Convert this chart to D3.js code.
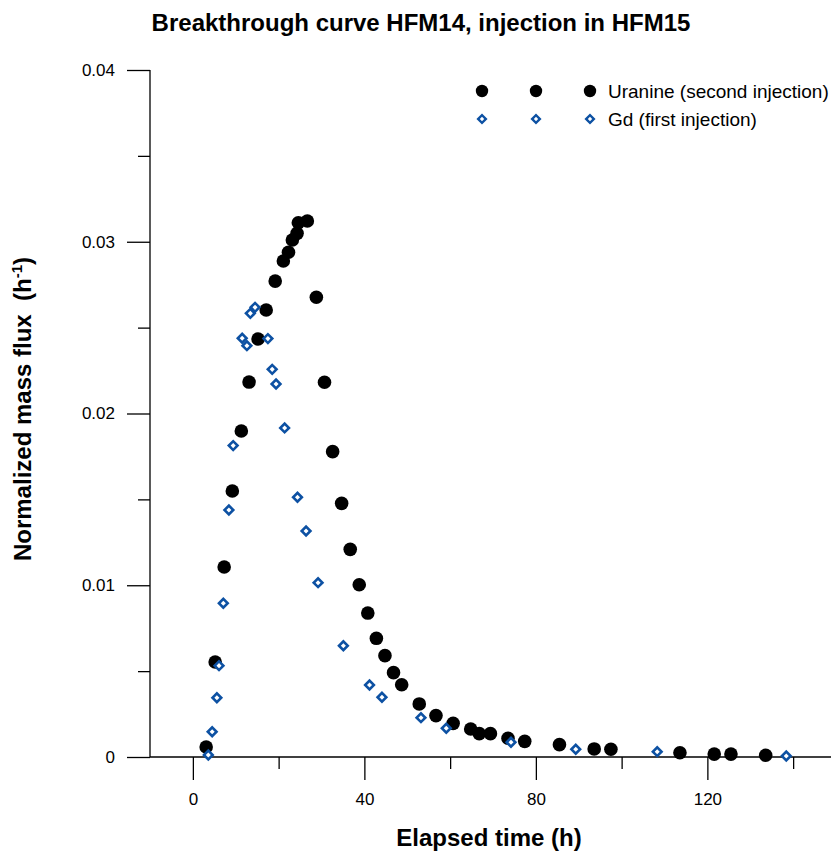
<!DOCTYPE html>
<html>
<head>
<meta charset="utf-8">
<script src="https://cdn.jsdelivr.net/npm/d3@7"></script>
<style>
  html, body { margin: 0; padding: 0; background: #fff; }
  svg { display: block; font-family: "Liberation Sans", Arial, sans-serif; }
</style>
</head>
<body>
<svg id="chart" width="831" height="852"></svg>
<script>
// ---- Data ----
const uranineTime = [3.1, 5.2, 7.3, 9.2, 11.3, 13.1, 15.2, 17.1, 19.2, 21.1, 22.3, 23.2, 24.3, 24.6, 26.7,
  28.8, 30.7, 32.6, 34.7, 36.7, 38.8, 40.8, 42.8, 44.8, 46.8, 48.7, 52.8, 56.7, 60.7, 64.8, 66.8, 69.4,
  73.5, 77.4, 85.5, 93.6, 97.5, 113.6, 121.6, 125.5, 133.6];
const uranineFlux = [0.00058, 0.00553, 0.01106, 0.01549, 0.01898, 0.02183, 0.02434, 0.02603, 0.02771, 0.02888,
  0.02939, 0.03010, 0.03049, 0.03111, 0.03121, 0.02677, 0.02182, 0.01778, 0.01477, 0.01209, 0.01003, 0.00838,
  0.00691, 0.00590, 0.00491, 0.00421, 0.00309, 0.00241, 0.00196, 0.00163, 0.00136, 0.00136, 0.00109, 0.00091,
  0.00072, 0.00047, 0.00045, 0.00025, 0.00017, 0.00017, 0.00010];
const gdTime = [3.6, 4.5, 5.6, 6.1, 7.1, 8.4, 9.4, 11.5, 12.6, 13.4, 14.5, 17.5, 18.5, 19.4, 21.4, 24.4, 26.4,
  29.2, 35.1, 41.2, 44.1, 53.2, 59.1, 74.2, 89.3, 108.3, 138.4];
const gdFlux = [0.00012, 0.00147, 0.00345, 0.00532, 0.00895, 0.01438, 0.01813, 0.02438, 0.02395, 0.02583,
  0.02618, 0.02436, 0.02257, 0.02172, 0.01916, 0.01512, 0.01316, 0.01015, 0.00648, 0.00419, 0.00348, 0.00229,
  0.00167, 0.00086, 0.00045, 0.00031, 0.00006];
const xMajorTicks = [0, 40, 80, 120];
const xMinorTicks = [20, 60, 100, 140];
const yMajorTicks = [0, 0.01, 0.02, 0.03, 0.04];
const yMinorTicks = [0.005, 0.015, 0.025, 0.035];
const yTickLabels = ["0", "0.01", "0.02", "0.03", "0.04"];
const seriesNames = ["Uranine (second injection)", "Gd (first injection)"];

const uranine = uranineTime.map((t, i) => ({t, v: uranineFlux[i]}));
const gd = gdTime.map((t, i) => ({t, v: gdFlux[i]}));

// ---- Layout ----
const svg = d3.select("#chart");
const W = 831;
const blue = "#0d51a3";
const x = d3.scaleLinear().domain([-10, 150]).range([150, 836]);
const y = d3.scaleLinear().domain([0, 0.04]).range([757, 70]);

// Title
svg.append("text")
  .attr("x", 421).attr("y", 31)
  .attr("text-anchor", "middle")
  .attr("font-weight", "bold").attr("font-size", 24)
  .text("Breakthrough curve HFM14, injection in HFM15");

// Axes
const gx = svg.append("g").attr("transform", `translate(0,${y(0)})`);
gx.call(d3.axisBottom(x).tickValues(xMajorTicks).tickSize(23).tickPadding(13).tickFormat(d3.format("d")));
gx.call(g => g.select(".domain").remove());
const gx2 = svg.append("g").attr("transform", `translate(0,${y(0)})`);
gx2.call(d3.axisBottom(x).tickValues(xMinorTicks).tickSize(12).tickFormat(""));
gx2.call(g => g.select(".domain").remove());

const gy = svg.append("g").attr("transform", `translate(${x(-10)},0)`);
gy.call(d3.axisLeft(y).tickValues(yMajorTicks).tickSize(23).tickPadding(12)
  .tickFormat((d, i) => yTickLabels[i]));
gy.call(g => g.select(".domain").remove());
const gy2 = svg.append("g").attr("transform", `translate(${x(-10)},0)`);
gy2.call(d3.axisLeft(y).tickValues(yMinorTicks).tickSize(12).tickFormat(""));
gy2.call(g => g.select(".domain").remove());

svg.selectAll(".tick text").attr("font-size", 17).attr("font-family", "Liberation Sans, Arial, sans-serif").attr("fill", "#000");
svg.selectAll(".tick line").attr("stroke", "#000").attr("stroke-width", 1.3);

// Axis lines
svg.append("line").attr("x1", x(-10)).attr("x2", x(-10)).attr("y1", y(0.04)).attr("y2", y(0))
  .attr("stroke", "#000").attr("stroke-width", 1.3);
svg.append("line").attr("x1", x(-10)).attr("x2", W).attr("y1", y(0)).attr("y2", y(0))
  .attr("stroke", "#000").attr("stroke-width", 1.3);

// Axis titles
svg.append("text")
  .attr("x", 489).attr("y", 846)
  .attr("text-anchor", "middle")
  .attr("font-weight", "bold").attr("font-size", 24)
  .text("Elapsed time (h)");

const yl = svg.append("text")
  .attr("transform", "translate(31,409) rotate(-90)")
  .attr("text-anchor", "middle")
  .attr("font-weight", "bold").attr("font-size", 24);
yl.append("tspan").text("Normalized mass flux\u00A0\u00A0(h");
yl.append("tspan").attr("font-size", 15).attr("dy", -9).text("-1");
yl.append("tspan").attr("dy", 9).text(")");

// Diamond symbol
const diamond = d3.symbol().type(d3.symbolSquare).size(38);

// Marks
svg.append("g").selectAll("circle").data(uranine).join("circle")
  .attr("cx", d => x(d.t)).attr("cy", d => y(d.v)).attr("r", 6.8).attr("fill", "#000");

svg.append("g").selectAll("path").data(gd).join("path")
  .attr("d", diamond)
  .attr("transform", d => `translate(${x(d.t)},${y(d.v)}) rotate(45)`)
  .attr("fill", "#fff").attr("stroke", blue).attr("stroke-width", 2.6);

// Legend
const legX = [482, 536, 590];
const leg = svg.append("g");
legX.forEach(lx => {
  leg.append("circle").attr("cx", lx).attr("cy", 91).attr("r", 6.2).attr("fill", "#000");
  leg.append("path").attr("d", d3.symbol().type(d3.symbolSquare).size(30)())
    .attr("transform", `translate(${lx},119) rotate(45)`)
    .attr("fill", "#fff").attr("stroke", blue).attr("stroke-width", 2.4);
});
leg.append("text").attr("x", 608).attr("y", 97.5).attr("font-size", 19).text(seriesNames[0]);
leg.append("text").attr("x", 608).attr("y", 125.5).attr("font-size", 19).text(seriesNames[1]);
</script>
</body>
</html>
